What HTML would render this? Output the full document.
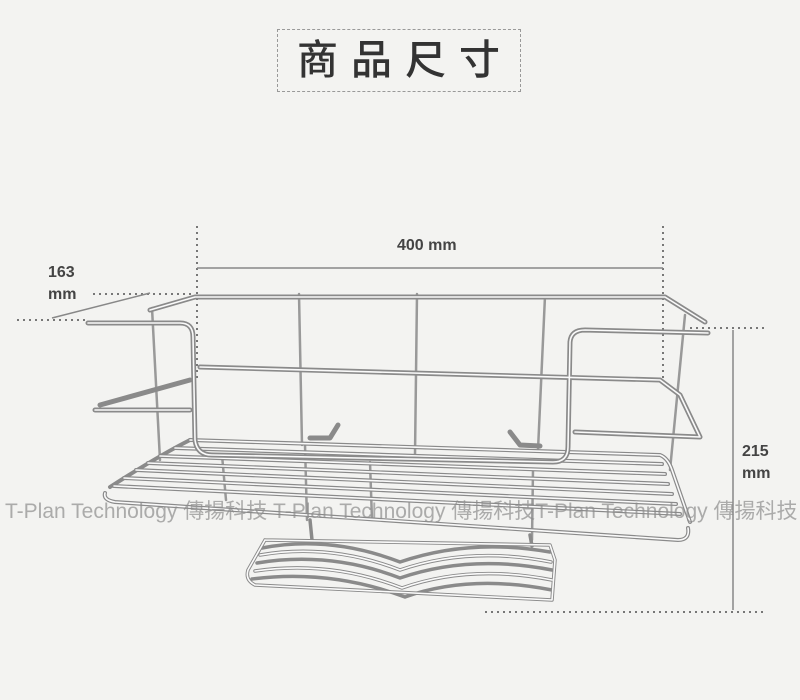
<!DOCTYPE html>
<html><head><meta charset="utf-8"><style>
html,body{margin:0;padding:0;background:#f3f3f1;}
body{width:800px;height:700px;overflow:hidden;position:relative;font-family:"Liberation Sans","Noto Sans CJK TC",sans-serif;}
.title{position:absolute;left:277px;top:29px;width:244px;height:63px;border:1.5px dashed #999;box-sizing:border-box;font-size:41px;color:#333;letter-spacing:13px;text-align:center;line-height:60px;padding-left:12px;font-weight:500;white-space:nowrap;}
.lbl{position:absolute;font-weight:bold;color:#444;font-size:16px;line-height:22px;}
.wm{position:absolute;left:5px;top:495px;font-size:21px;color:rgba(140,140,140,0.7);white-space:nowrap;}
svg{position:absolute;left:0;top:0;}
.w{fill:none;stroke:#8a8a8a;stroke-width:5;stroke-linecap:round;stroke-linejoin:round;}
.h{fill:none;stroke:#fafafa;stroke-width:1.6;stroke-linecap:round;stroke-linejoin:round;}
.t{fill:none;stroke:#999;stroke-width:2.5;stroke-linecap:round;}
</style></head><body>
<div class="title">商品尺寸</div>
<svg width="800" height="700">
<g stroke="#777" stroke-width="2" stroke-dasharray="2,4" fill="none">
<line x1="197" y1="226" x2="197" y2="380"/>
<line x1="663" y1="226" x2="663" y2="382"/>
<line x1="93" y1="294" x2="195" y2="294"/>
<line x1="17" y1="320" x2="85" y2="320"/>
<line x1="690" y1="328" x2="765" y2="328"/>
<line x1="485" y1="612" x2="765" y2="612"/>
</g>
<g stroke="#888" stroke-width="1.5">
<line x1="197" y1="268" x2="663" y2="268"/>
<line x1="52" y1="318" x2="150" y2="293"/>
<line x1="733" y1="330" x2="733" y2="610"/>
</g>
<g id="rack">
<g class="t">
<line x1="152" y1="308" x2="160" y2="460"/>
<line x1="299" y1="294" x2="302" y2="445"/>
<line x1="417" y1="294" x2="415" y2="455"/>
<line x1="545" y1="296" x2="538" y2="450"/>
<line x1="685" y1="315" x2="670" y2="470"/>
<line x1="222" y1="455" x2="226" y2="500"/>
<line x1="370" y1="462" x2="372" y2="520"/>
<line x1="533" y1="470" x2="532" y2="540"/>
<line x1="305" y1="445" x2="307" y2="520"/>
</g>
<g class="w" style="stroke-width:4">
<path d="M190 440 L660 455 Q668 458 672 470 L690 522"/>
<path d="M175 448 L662 464"/><path d="M160 456 L665 474"/><path d="M148 463 L668 484"/>
<path d="M136 470 L672 494"/><path d="M124 478 L676 504"/><path d="M114 486 L680 514"/>
<path d="M190 440 Q160 455 110 487"/>
<path d="M105 493 Q103 500 115 502 L678 540 Q690 540 688 528"/>
</g>
<g class="h">
<path d="M190 440 L660 455 Q668 458 672 470 L690 522"/>
<path d="M175 448 L662 464"/><path d="M160 456 L665 474"/><path d="M148 463 L668 484"/>
<path d="M136 470 L672 494"/><path d="M124 478 L676 504"/><path d="M114 486 L680 514"/>
<path d="M105 493 Q103 500 115 502 L678 540 Q690 540 688 528"/>
</g>
<g class="w">
<path d="M150 310 L195 297 L665 297 L705 322"/>
<path d="M200 367 L660 380 L680 395 L700 437 L575 432"/>
<path d="M95 410 L190 410"/><path d="M190 380 L100 405"/>
<path d="M88 323 L180 323 Q193 323 193 337 L195 440 Q197 455 212 455 L553 462 Q568 462 568 447 L570 342 Q571 330 585 330 L708 333"/>
<path d="M310 438 L330 438 L338 425"/><path d="M510 432 L520 445 L540 446"/>
</g>
<g class="h">
<path d="M150 310 L195 297 L665 297 L705 322"/>
<path d="M200 367 L660 380 L680 395 L700 437 L575 432"/>
<path d="M95 410 L190 410"/>
<path d="M88 323 L180 323 Q193 323 193 337 L195 440 Q197 455 212 455 L553 462 Q568 462 568 447 L570 342 Q571 330 585 330 L708 333"/>
</g>
<g class="w" style="stroke-width:3.5">
<path d="M265 540 L550 545 L555 560 L552 600 L255 585 Q245 580 248 570 L265 540"/>
<path d="M262 548 Q330 535 400 562 Q470 538 550 552"/>
<path d="M260 555 Q330 543 400 570 Q470 546 551 562"/>
<path d="M257 563 Q330 551 400 578 Q470 554 552 570"/>
<path d="M255 571 Q330 560 402 588 Q470 564 552 580"/>
<path d="M252 579 Q330 569 405 597 Q470 574 552 590"/>
<line x1="310" y1="520" x2="312" y2="540"/><line x1="530" y1="535" x2="532" y2="546"/>
</g>
<g class="h">
<path d="M265 540 L550 545 L555 560 L552 600 L255 585 Q245 580 248 570 L265 540"/>
<path d="M260 555 Q330 543 400 570 Q470 546 551 562"/>
<path d="M255 571 Q330 560 402 588 Q470 564 552 580"/>
</g>
</g>
</svg>
<div class="lbl" style="left:397px;top:235px;">400 mm</div>
<div class="lbl" style="left:48px;top:262px;">163<br>mm</div>
<div class="lbl" style="left:742px;top:441px;">215<br>mm</div>
<div class="wm">T-Plan Technology 傳揚科技 T-Plan Technology 傳揚科技T-Plan Technology 傳揚科技</div>
</body></html>
